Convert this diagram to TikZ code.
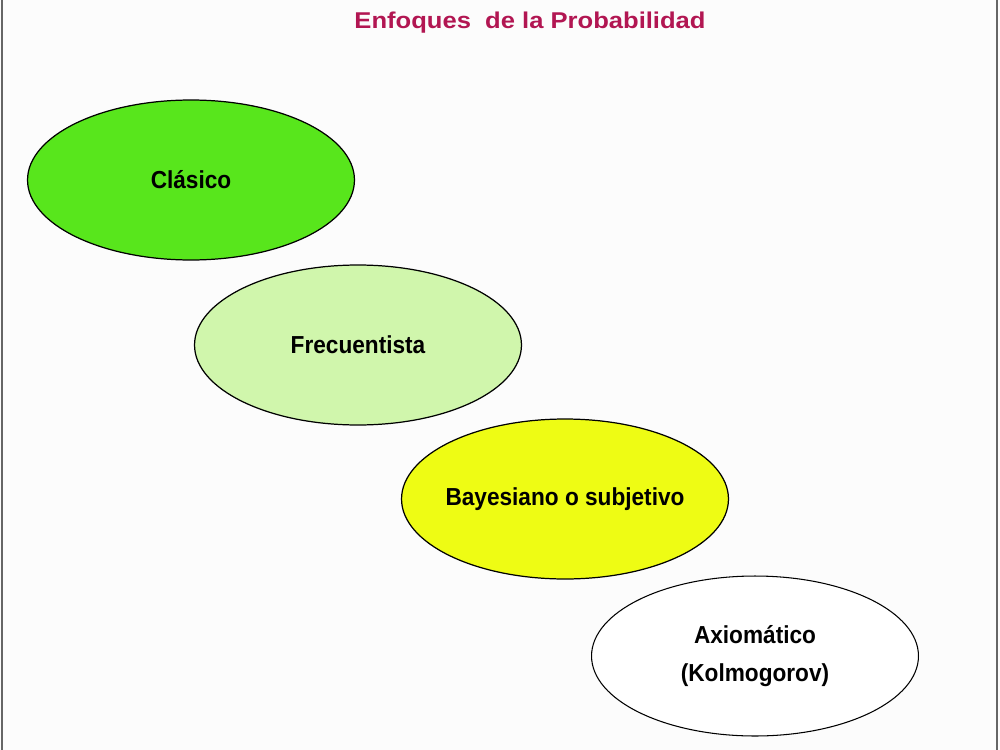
\documentclass[tikz,border=0pt]{standalone}
\usepackage{fontspec}
\setmainfont{Liberation Sans}
\usepackage{tikz}
\usetikzlibrary{shapes.geometric,positioning}
\definecolor{titlered}{RGB}{178,22,82}
\definecolor{clasgreen}{RGB}{88,230,28}
\definecolor{frecgreen}{RGB}{208,246,172}
\definecolor{bayyellow}{RGB}{238,252,20}
\newcommand{\narrowtxt}[1]{\scalebox{0.92}[1]{#1}}

\begin{document}
\begin{tikzpicture}[x=0.02cm,y=-0.02cm,
  enfoque/.style={ellipse,draw=black,line width=0.7pt,minimum width=6.54cm,minimum height=3.2cm,inner sep=-12pt,align=center,font=\fontsize{14}{17}\selectfont\bfseries},
  every node/.style={text=black}]
\useasboundingbox (0,0) rectangle (1000,750);
\fill[white!99!black] (0,0) rectangle (1000,750);
% marco de la diapositiva
\draw[black!60,line width=1.2pt] (2,0) -- (2,750);
\draw[black!60,line width=1.2pt] (997,0) -- (997,750);
\node[text=titlered,font=\fontsize{13}{15}\selectfont\bfseries] (titulo) at (530,23) {\scalebox{1.12}[1]{Enfoques\ \ de la Probabilidad}};
\node[enfoque,fill=clasgreen] (clasico) at (191,180) {\narrowtxt{Clásico}};
\node[enfoque,fill=frecgreen] (frec) at (358,345) {\narrowtxt{Frecuentista}};
\node[enfoque,fill=bayyellow] (bayes) at (565,499) {\narrowtxt{Bayesiano o subjetivo}};
\node[enfoque,fill=white,line width=0.6pt] (axiom) at (755,656) {\narrowtxt{Axiomático}\\[5pt]\narrowtxt{(Kolmogorov)}};
\end{tikzpicture}
\end{document}
